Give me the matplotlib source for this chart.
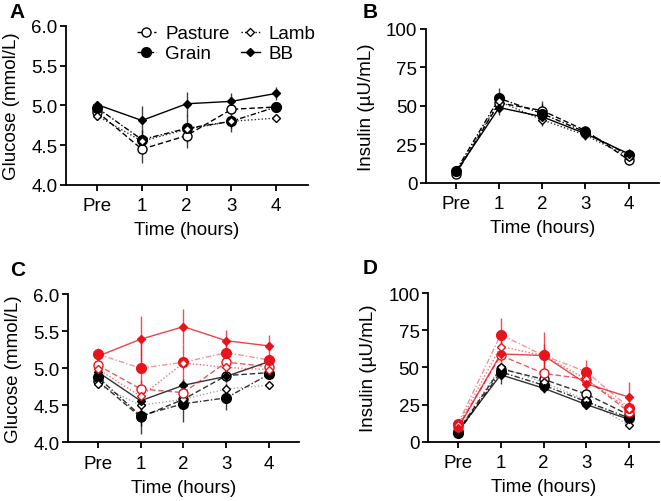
import numpy as np
import matplotlib
matplotlib.use("Agg")
import matplotlib.pyplot as plt

plt.rcParams['font.family'] = ['Liberation Sans', 'DejaVu Sans']

# eje x
tiempos = ["Pre", "1", "2", "3", "4"]
x = np.arange(len(tiempos))

# Panel A - glucosa (media, error)
glu_pasture = [4.92, 4.45, 4.62, 4.95, 4.98]
glu_pasture_se = [0.05, 0.17, 0.15, 0.06, 0.05]
glu_grain = [4.97, 4.57, 4.71, 4.80, 4.98]
glu_grain_se = [0.05, 0.12, 0.17, 0.14, 0.06]
glu_lamb = [4.87, 4.55, 4.70, 4.80, 4.84]
glu_lamb_se = [0.04, 0.08, 0.08, 0.08, 0.05]
glu_bb = [5.01, 4.81, 5.02, 5.05, 5.15]
glu_bb_se = [0.05, 0.18, 0.15, 0.11, 0.08]

# Panel B - insulina
ins_pasture = [6, 52, 47, 34, 15]
ins_pasture_se = [1, 4, 6, 3, 3]
ins_grain = [8, 55, 45, 33, 18]
ins_grain_se = [1, 6.5, 6, 3, 4]
ins_lamb = [7, 53, 41, 31, 17]
ins_lamb_se = [1, 4, 4, 3, 3]
ins_bb = [7, 49, 43, 32, 19]
ins_bb_se = [1, 5, 4, 3, 3]

# Panel C - glucosa por grupo (rojo / negro)
gluc_r_pasture = [5.04, 4.72, 4.67, 5.08, 5.02]
gluc_r_pasture_se = [0.06, 0.12, 0.12, 0.08, 0.06]
gluc_r_grain = [5.19, 5.00, 5.08, 5.21, 5.11]
gluc_r_grain_se = [0.08, 0.35, 0.25, 0.10, 0.08]
gluc_r_lamb = [4.99, 4.62, 5.07, 5.01, 4.98]
gluc_r_lamb_se = [0.05, 0.10, 0.08, 0.06, 0.05]
gluc_r_bb = [5.16, 5.39, 5.56, 5.37, 5.30]
gluc_r_bb_se = [0.10, 0.31, 0.24, 0.15, 0.15]
gluc_k_pasture = [4.83, 4.34, 4.58, 4.90, 4.94]
gluc_k_pasture_se = [0.05, 0.12, 0.10, 0.08, 0.05]
gluc_k_grain = [4.88, 4.36, 4.52, 4.60, 4.92]
gluc_k_grain_se = [0.05, 0.25, 0.24, 0.16, 0.05]
gluc_k_lamb = [4.78, 4.50, 4.58, 4.72, 4.77]
gluc_k_lamb_se = [0.04, 0.08, 0.08, 0.08, 0.05]
gluc_k_bb = [4.95, 4.56, 4.77, 4.89, 5.09]
gluc_k_bb_se = [0.05, 0.10, 0.08, 0.08, 0.06]

# Panel D - insulina por grupo
insd_r_pasture = [10, 58, 46, 42, 20]
insd_r_pasture_se = [1, 4, 5, 4, 3]
insd_r_grain = [12, 72, 58, 47, 23]
insd_r_grain_se = [2, 11, 8, 8, 5]
insd_r_lamb = [11, 64, 58, 42, 22]
insd_r_lamb_se = [1, 5, 5, 4, 3]
insd_r_bb = [9, 59, 58, 39, 30]
insd_r_bb_se = [1, 6, 16, 5, 10]
insd_k_pasture = [7, 49, 42, 32, 18]
insd_k_pasture_se = [1, 3, 3, 3, 2]
insd_k_grain = [6, 47, 38, 27, 16]
insd_k_grain_se = [1, 4, 3, 3, 2]
insd_k_lamb = [8, 50, 40, 28, 11]
insd_k_lamb_se = [1, 3, 3, 2, 2]
insd_k_bb = [7, 45, 36, 25, 15]
insd_k_bb_se = [1, 6, 3, 3, 2]

rojo = '#e8141c'
fs = 13.5

# estilos: (marcador, relleno, tamano, linea)
estilos = {
    'Pasture': ('o', 'none', 6.5, (0, (4, 2))),
    'Grain': ('o', 'full', 7, (0, (4, 1.5, 1, 1.5))),
    'Lamb': ('D', 'none', 4.5, (0, (1, 1.5))),
    'BB': ('D', 'full', 4, '-'),
}


def serie(ax, y, se, nombre, color, alfa_linea=1.0, label=None):
    m, fill, ms, ls = estilos[nombre]
    ax.errorbar(x, y, yerr=se, color=color, ecolor=color, elinewidth=1.0,
                capsize=0, linestyle='none', alpha=0.75, zorder=2)
    ax.plot(x, y, color=color, linestyle=ls, linewidth=1.0, alpha=alfa_linea, zorder=3)
    face = color if fill == 'full' else 'white'
    ax.plot(x, y, linestyle='none', marker=m, markersize=ms, markerfacecolor=face,
            markeredgecolor=color, markeredgewidth=1.0, zorder=4)
    if label is not None:
        ax.plot([], [], color=color, linestyle=ls, linewidth=1.0, marker=m, markersize=ms,
                markerfacecolor=face, markeredgecolor=color, label=label)


def formato(ax, ylim, yticks, ylabel, ytl):
    ax.set_xlim(-0.7, 4.7)
    ax.set_ylim(*ylim)
    ax.set_xticks(x)
    ax.set_xticklabels(tiempos)
    ax.set_yticks(yticks)
    ax.set_yticklabels(ytl)
    ax.spines['top'].set_visible(False)
    ax.spines['right'].set_visible(False)
    for s in ['left', 'bottom']:
        ax.spines[s].set_linewidth(1.3)
    ax.tick_params(axis='y', direction='out', length=4, width=1.3, labelsize=fs, pad=2)
    ax.tick_params(axis='x', direction='out', length=4, width=1.3, labelsize=fs, pad=5)
    ax.set_xlabel('Time (hours)', fontsize=fs, labelpad=5)
    ax.set_ylabel(ylabel, fontsize=fs, labelpad=8)


fig = plt.figure(figsize=(6.61, 5.02), dpi=100)
axA = fig.add_axes([0.0994, 0.6295, 0.366, 0.3173])
axB = fig.add_axes([0.6442, 0.6335, 0.3525, 0.3068])
axC = fig.add_axes([0.1024, 0.1169, 0.3504, 0.2954])
axD = fig.add_axes([0.6475, 0.1181, 0.3495, 0.2962])

# A
serie(axA, glu_pasture, glu_pasture_se, 'Pasture', 'black', label='Pasture')
serie(axA, glu_grain, glu_grain_se, 'Grain', 'black', label='Grain')
serie(axA, glu_lamb, glu_lamb_se, 'Lamb', 'black', 0.8, label='Lamb')
serie(axA, glu_bb, glu_bb_se, 'BB', 'black', label='BB')
formato(axA, (4.0, 6.0), [4.0, 4.5, 5.0, 5.5, 6.0], 'Glucose (mmol/L)',
        ['4.0', '4.5', '5.0', '5.5', '6.0'])
axA.legend(ncol=2, frameon=False, fontsize=fs, loc='upper left',
           bbox_to_anchor=(0.225, 1.11), handlelength=1.0, handletextpad=0.5,
           columnspacing=0.6, labelspacing=0.15, borderpad=0.4)

# B
serie(axB, ins_pasture, ins_pasture_se, 'Pasture', 'black')
serie(axB, ins_grain, ins_grain_se, 'Grain', 'black')
serie(axB, ins_lamb, ins_lamb_se, 'Lamb', 'black', 0.8)
serie(axB, ins_bb, ins_bb_se, 'BB', 'black')
formato(axB, (0, 100), [0, 25, 50, 75, 100], 'Insulin (µU/mL)',
        ['0', '25', '50', '75', '100'])

# C
serie(axC, gluc_k_pasture, gluc_k_pasture_se, 'Pasture', 'black', 0.8)
serie(axC, gluc_k_grain, gluc_k_grain_se, 'Grain', 'black', 0.8)
serie(axC, gluc_k_lamb, gluc_k_lamb_se, 'Lamb', 'black', 0.35)
serie(axC, gluc_k_bb, gluc_k_bb_se, 'BB', 'black', 0.8)
serie(axC, gluc_r_pasture, gluc_r_pasture_se, 'Pasture', rojo, 0.7)
serie(axC, gluc_r_grain, gluc_r_grain_se, 'Grain', rojo, 0.45)
serie(axC, gluc_r_lamb, gluc_r_lamb_se, 'Lamb', rojo, 0.6)
serie(axC, gluc_r_bb, gluc_r_bb_se, 'BB', rojo, 0.8)
formato(axC, (4.0, 6.0), [4.0, 4.5, 5.0, 5.5, 6.0], 'Glucose (mmol/L)',
        ['4.0', '4.5', '5.0', '5.5', '6.0'])

# D
serie(axD, insd_k_pasture, insd_k_pasture_se, 'Pasture', 'black', 0.8)
serie(axD, insd_k_grain, insd_k_grain_se, 'Grain', 'black', 0.8)
serie(axD, insd_k_lamb, insd_k_lamb_se, 'Lamb', 'black', 0.35)
serie(axD, insd_k_bb, insd_k_bb_se, 'BB', 'black', 0.8)
serie(axD, insd_r_pasture, insd_r_pasture_se, 'Pasture', rojo, 0.7)
serie(axD, insd_r_grain, insd_r_grain_se, 'Grain', rojo, 0.45)
serie(axD, insd_r_lamb, insd_r_lamb_se, 'Lamb', rojo, 0.6)
serie(axD, insd_r_bb, insd_r_bb_se, 'BB', rojo, 0.8)
formato(axD, (0, 100), [0, 25, 50, 75, 100], 'Insulin (µU/mL)',
        ['0', '25', '50', '75', '100'])

# letras de panel
for letra, px, py in [('A', 0.015, 0.976), ('B', 0.548, 0.976),
                      ('C', 0.015, 0.462), ('D', 0.548, 0.465)]:
    fig.text(px, py, letra, fontsize=15, fontweight='bold', va='center')

fig.savefig('out.png', dpi=100)
